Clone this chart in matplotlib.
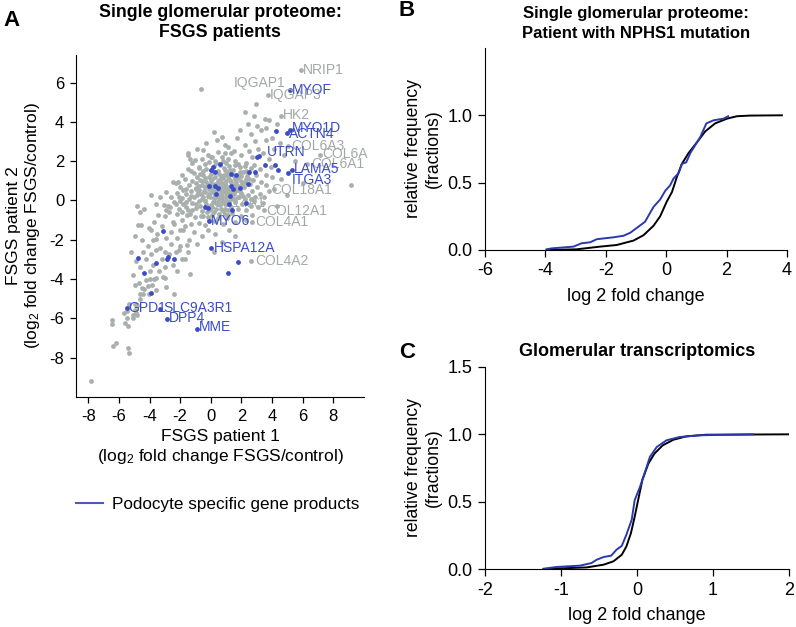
import numpy as np
import matplotlib
matplotlib.use("Agg")
import matplotlib.pyplot as plt
from matplotlib.lines import Line2D

plt.rcParams['font.family'] = ['Liberation Sans', 'DejaVu Sans']
plt.rcParams['mathtext.fontset'] = 'custom'
plt.rcParams['mathtext.rm'] = 'Liberation Sans'
plt.rcParams['mathtext.default'] = 'regular'
plt.rcParams['axes.unicode_minus'] = False

GRAY = '#a8b0ad'
GRAY_TXT = '#a3a8a8'
BLUE = '#3a4cc8'
LINE_BLUE = '#2a3aae'

# ---- panel A: FSGS patient 1 vs patient 2 (log2 fold change)
gray_core = [
    (-0.3, 2.9), (0.4, 3.1), (1.1, 2.7), (1.7, 3.2), (2.2, 2.8), (2.6, 3.4), (0.9, 2.4),
    (-0.9, 2.6), (1.5, 2.5), (2.9, 3.0), (2.4, 3.9), (3.3, 3.6), (2.8, 4.3), (1.9, 3.6),
    (0.2, 3.5), (-1.5, 2.3), (3.1, 2.6), (3.6, 3.1),
    (-1.2, 1.9), (-0.6, 2.1), (-0.2, 2.3), (0.3, 2.0), (0.7, 2.2), (1.0, 1.9), (1.3, 2.4),
    (1.6, 2.0), (2.0, 2.3), (2.3, 1.9), (2.7, 2.2), (3.4, 2.4), (0.5, 2.45), (-0.4, 1.85),
    (1.8, 1.85), (2.5, 2.5), (3.8, 2.1), (4.1, 2.6), (0.1, 2.2), (1.15, 2.1),
    (-1.9, 1.3), (-1.5, 1.6), (-1.1, 1.4), (-0.8, 1.7), (-0.5, 1.3), (-0.3, 1.6), (0.0, 1.35),
    (0.2, 1.75), (0.45, 1.5), (0.7, 1.25), (0.85, 1.65), (1.05, 1.4), (1.2, 1.75), (1.45, 1.55),
    (1.7, 1.3), (1.9, 1.7), (2.1, 1.45), (2.35, 1.25), (2.6, 1.65), (2.95, 1.3), (3.2, 1.6),
    (-0.9, 1.2), (0.6, 1.8), (1.6, 1.2), (2.8, 1.8), (3.6, 1.3), (4.0, 1.2), (-0.15, 1.2),
    (0.95, 1.55), (2.25, 1.75),
    (-2.3, 0.9), (-2.0, 0.7), (-1.7, 1.1), (-1.4, 0.8), (-1.2, 1.0), (-0.95, 0.65), (-0.7, 1.05),
    (-0.55, 0.8), (-0.3, 0.95), (-0.1, 0.6), (0.1, 1.1), (0.25, 0.85), (0.5, 1.0), (0.65, 0.7),
    (0.8, 1.15), (0.95, 0.85), (1.1, 0.6), (1.25, 1.05), (1.4, 0.8), (1.55, 1.1), (1.75, 0.75),
    (1.95, 1.0), (2.15, 0.7), (2.3, 1.1), (2.55, 0.85), (2.75, 1.05), (3.0, 0.7), (3.3, 0.95),
    (-1.0, 0.9), (0.4, 0.65), (0.75, 0.9), (1.65, 0.95), (2.05, 0.85), (-0.4, 0.7), (0.0, 0.9),
    (1.0, 1.0), (3.6, 0.8), (-1.6, 0.6),
    (-2.6, 0.2), (-2.2, 0.4), (-1.9, 0.1), (-1.6, 0.35), (-1.3, 0.5), (-1.1, 0.15), (-0.85, 0.4),
    (-0.6, 0.05), (-0.45, 0.5), (-0.2, 0.25), (0.05, 0.45), (0.2, 0.1), (0.35, 0.55), (0.55, 0.3),
    (0.7, 0.05), (0.85, 0.45), (1.0, 0.2), (1.15, 0.5), (1.35, 0.1), (1.5, 0.35), (1.7, 0.55),
    (1.85, 0.15), (2.0, 0.4), (2.2, 0.05), (2.45, 0.3), (2.7, 0.5), (2.9, 0.15), (3.2, 0.35),
    (-0.75, 0.55), (0.45, 0.15), (1.6, 0.0), (-1.45, 0.05), (0.95, 0.6), (2.6, 0.05), (3.5, 0.2),
    (-2.9, 0.45),
    (-2.8, -0.3), (-2.4, -0.1), (-2.1, -0.45), (-1.8, -0.2), (-1.5, -0.5), (-1.25, -0.15),
    (-1.0, -0.4), (-0.8, -0.05), (-0.55, -0.55), (-0.3, -0.2), (-0.05, -0.5), (0.15, -0.1),
    (0.35, -0.45), (0.6, -0.25), (0.8, -0.55), (1.0, -0.05), (1.3, -0.35), (1.55, -0.1),
    (1.8, -0.45), (2.05, -0.2), (2.3, -0.5), (2.6, -0.3), (2.85, -0.05), (3.1, -0.35),
    (-2.0, -0.05), (0.5, -0.05), (1.15, -0.5), (-1.6, -0.35), (3.4, -0.15), (0.0, -0.25),
    (-3.0, -0.8), (-2.5, -1.1), (-2.2, -0.7), (-1.9, -1.0), (-1.55, -0.75), (-1.3, -1.2),
    (-1.05, -0.85), (-0.8, -1.15), (-0.5, -0.8), (-0.35, -1.25), (0.05, -0.75), (0.3, -1.05),
    (0.55, -0.7), (0.8, -1.2), (1.05, -0.9), (1.4, -0.65), (1.6, -1.1), (1.95, -0.8),
    (2.3, -1.0), (-1.7, -1.3), (-0.15, -0.95), (0.9, -0.7), (2.7, -0.75), (-2.7, -0.6),
    (-2.6, -1.6), (-2.2, -1.9), (-1.8, -1.5), (-1.4, -2.0), (-1.1, -1.6), (-0.6, -1.8),
    (-0.2, -1.5), (0.3, -1.7), (0.7, -2.1), (1.2, -1.5), (-1.58, -2.28), (-2.0, -2.3),
    (-0.9, -2.2), (1.6, -1.8), (0.2, -2.6),
]
gray_dense = [
    (-0.9, 0.3), (-0.7, -0.3), (-0.5, 0.2), (-0.25, -0.6), (-0.1, 0.35), (0.1, -0.35),
    (0.25, 0.4), (0.4, -0.2), (0.55, 0.55), (0.65, -0.45), (0.75, 0.25), (0.9, -0.2),
    (1.05, 0.35), (1.2, -0.05), (1.3, 0.45), (1.45, 0.05), (1.6, 0.6), (1.75, 0.2),
    (1.9, 0.5), (2.1, 0.25),
    (-0.6, 1.0), (-0.4, 1.15), (-0.2, 0.8), (0.0, 1.05), (0.15, 0.7), (0.3, 1.2), (0.45, 0.85),
    (0.6, 1.1), (0.7, 0.45), (0.85, 1.3), (1.0, 0.75), (1.15, 1.2), (1.3, 0.95), (1.45, 1.3),
    (1.6, 0.8), (1.8, 1.15), (2.0, 1.25), (2.2, 0.95), (2.4, 1.4), (2.5, 1.1),
    (-1.3, 0.25), (-1.0, 0.6), (-0.8, 0.75), (-0.65, 0.35), (-0.35, 0.45), (-0.05, 0.15),
    (0.1, 0.65), (0.3, 0.3), (0.5, 0.6), (0.65, 0.15), (0.8, 0.65), (1.0, 0.45), (1.2, 0.25),
    (1.35, 0.7), (1.55, 0.5), (-1.2, -0.5), (-0.95, -0.2), (-0.65, -0.8), (-0.4, -0.05),
    (-0.2, -0.85), (0.2, -0.6), (0.45, -0.9), (0.7, -0.05), (0.95, -0.45), (1.1, -0.75),
    (-1.8, 0.55), (-2.1, 0.15), (-1.6, -0.1), (-1.35, -0.7), (-1.9, -0.6),
    (0.1, 1.5), (0.55, 1.35), (0.35, 1.9), (0.8, 2.0), (1.25, 1.55), (1.55, 1.8), (1.9, 1.45),
    (-0.5, 1.5), (-0.7, 1.35), (2.3, 1.5),
]
gray_upper = [
    (3.74, 5.36), (4.59, 4.28), (3.78, 4.11), (3.55, 4.15), (2.98, 4.91), (-0.65, 5.65),
    (5.89, 6.63), (4.0, 3.2), (4.5, 2.9), (3.6, 3.7), (4.3, 3.9), (3.0, 3.8), (2.2, 4.5),
    (4.8, 2.3), (5.06, 2.79), (6.3, 1.83), (7.1, 2.33), (5.5, 2.0), (4.6, 1.1), (4.1, 0.6),
    (5.0, 0.3), (3.83, 0.5), (3.5, -0.5), (2.7, -1.1), (4.3, -0.3), (9.13, 0.8), (6.0, 0.9),
    (2.6, -3.1), (3.9, 1.7), (0.76, 3.25), (0.91, 2.83), (-0.54, 2.59), (-1.51, 2.4),
    (-1.34, 2.12), (-1.02, 2.08), (0.0, 2.2), (-0.11, 1.95),
]
gray_left = [
    (-4.8, -0.29), (-4.33, -0.42), (-4.76, -1.27), (-4.59, -1.27), (-4.98, -1.81), (-4.04, -1.4),
    (-3.74, -1.1), (-3.46, -0.76), (-3.29, 0.17), (-2.49, 0.93), (-2.16, 0.93), (-1.3, 1.52),
    (-0.76, 1.64), (-3.03, -0.25), (-2.92, -0.47), (-2.64, -0.34), (-3.8, -2.0), (-3.5, -1.7),
    (-3.2, -1.3), (-2.9, -1.9), (-2.6, -2.2), (-3.3, -2.4), (-4.1, -2.3), (-3.9, -2.7),
    (-3.6, -2.5), (-3.0, -2.6), (-2.7, -2.7), (-4.4, -2.6), (-4.2, -3.0), (-3.75, -3.3),
    (-3.2, -3.0), (-2.5, -3.3), (-2.3, -2.6), (-2.1, -2.5), (-1.9, -3.0), (-4.6, -3.4),
    (-4.0, -3.6), (-3.4, -3.6), (-3.0, -3.4), (-2.2, -3.6), (-1.36, -3.72), (-3.1, -3.9),
    (-3.7, -4.0), (-4.5, -2.0), (-3.9, -1.5), (-5.2, -2.6), (-4.9, -3.1), (-2.4, -1.2),
    (-2.0, -1.5), (-4.6, -0.6), (-3.6, -0.2), (-3.9, 0.3), (-2.3, -0.2), (-5.1, -3.8),
    (-4.7, -4.2), (-1.5, -2.62), (-3.55, -1.95),
]
gray_tail = [
    (-4.65, -4.77), (-4.43, -4.74), (-4.04, -4.77), (-4.33, -4.5), (-4.11, -4.33), (-3.83, -4.29),
    (-3.56, -4.55), (-4.2, -4.06), (-3.95, -3.98), (-4.98, -4.3), (-4.5, -4.43), (-3.56, -3.92),
    (-3.0, -3.92), (-2.4, -4.74), (-5.64, -5.75), (-5.5, -5.6), (-4.91, -5.75), (-5.06, -6.0),
    (-5.44, -6.0), (-4.83, -5.83), (-5.36, -5.25), (-4.95, -5.25), (-4.83, -5.3), (-5.11, -5.84),
    (-4.93, -5.58), (-6.44, -6.09), (-6.44, -6.31), (-5.62, -6.21), (-5.41, -6.38), (-6.4, -7.4),
    (-6.19, -7.24), (-5.41, -7.5), (-5.32, -7.78), (-7.85, -9.19), (-4.6, -5.0), (-2.9, -4.4),
    (-1.7, -3.0),
]
podocyte = [
    (5.17, 5.62), (4.26, 3.55), (4.95, 3.44), (5.17, 3.59), (3.13, 2.28), (3.0, 2.2),
    (3.55, 1.78), (4.22, 1.81), (4.37, 1.57), (5.02, 1.41), (5.30, 1.57), (2.86, 1.44),
    (2.50, 1.44), (1.34, 1.35), (1.62, 1.27), (0.58, 1.86), (0.15, 1.69), (0.0, 1.55),
    (0.26, 1.44), (-0.15, 0.75), (0.30, 0.76), (0.45, 0.63), (0.37, 0.32), (1.45, 0.59),
    (1.90, 0.64), (2.42, 0.86), (1.25, 0.25), (1.30, 0.76), (-0.41, -0.34), (-0.17, -0.37),
    (1.20, -0.20), (1.41, -0.51), (2.32, -0.15), (-0.15, -1.07), (0.04, -2.42), (1.80, -3.13),
    (1.15, -3.67), (-3.10, -1.54), (-4.76, -2.91), (-3.57, -3.16), (-2.88, -2.96),
    (-2.81, -2.88), (-2.42, -2.99), (-4.35, -3.70), (-3.89, -4.70), (-5.47, -5.47),
    (-3.31, -5.53), (-2.88, -6.04), (-0.89, -6.55),
]
# gene labels: (name, x, y) at the left edge of the text
gray_labels = [
    ("NRIP1", 6.0, 6.63), ("IQGAP1", 1.49, 5.99), ("IQGAP3", 3.85, 5.38), ("HK2", 4.7, 4.33),
    ("COL6A3", 5.26, 2.79), ("COL6A", 7.27, 2.34), ("COL6A1", 6.55, 1.83),
    ("COL18A1", 3.96, 0.51), ("COL12A1", 3.63, -0.54), ("COL4A1", 2.92, -1.1),
    ("COL4A2", 2.92, -3.1),
]
blue_labels = [
    ("MYOF", 5.3, 5.64), ("MYO1D", 5.26, 3.7), ("ACTN4", 5.13, 3.4), ("UTRN", 3.63, 2.49),
    ("LAMA5", 5.45, 1.62), ("ITGA3", 5.26, 1.02), ("MYO6", 0.0, -1.07),
    ("HSPA12A", 0.19, -2.4), ("GPD1", -5.39, -5.45), ("SLC9A3R1", -3.12, -5.48),
    ("DPP4", -2.73, -5.96), ("MME", -0.78, -6.46),
]

# ---- panel B: cumulative distributions, NPHS1 patient
b_all_x = [-3.96, -2.96, -2.19, -1.64, -1.08, -0.75, -0.42, -0.2, 0.02, 0.19, 0.35, 0.52,
           0.74, 1.02, 1.29, 1.62, 2.01, 2.34, 2.78, 3.83]
b_all_y = [0.0, 0.005, 0.025, 0.037, 0.07, 0.11, 0.18, 0.25, 0.36, 0.43, 0.54, 0.64,
           0.72, 0.80, 0.88, 0.94, 0.975, 0.993, 0.998, 1.0]
b_pod_x = [-3.96, -3.79, -3.07, -2.8, -2.52, -2.3, -1.75, -1.41, -1.19, -0.92, -0.7, -0.42,
           -0.2, -0.03, 0.13, 0.24, 0.41, 0.52, 0.66, 0.8, 1.13, 1.33, 1.57, 1.9, 2.05]
b_pod_y = [0.005, 0.012, 0.025, 0.05, 0.057, 0.08, 0.094, 0.106, 0.128, 0.173, 0.21, 0.32,
           0.375, 0.44, 0.48, 0.53, 0.57, 0.64, 0.65, 0.72, 0.84, 0.94, 0.963, 0.975, 0.993]

# ---- panel C: cumulative distributions, glomerular transcriptomics
c_all_x = [-1.23, -0.66, -0.44, -0.31, -0.2, -0.14, -0.08, -0.03, 0.015, 0.07, 0.15, 0.23,
           0.34, 0.48, 0.65, 0.91, 2.0]
c_all_y = [0.0, 0.012, 0.032, 0.057, 0.106, 0.167, 0.266, 0.389, 0.512, 0.66, 0.783, 0.857,
           0.919, 0.96, 0.985, 0.997, 1.0]
c_pod_x = [-1.23, -1.06, -0.75, -0.6, -0.53, -0.44, -0.34, -0.27, -0.2, -0.14, -0.07, -0.03,
           0.04, 0.12, 0.17, 0.26, 0.39, 0.56, 0.83, 1.53]
c_pod_y = [0.002, 0.015, 0.025, 0.044, 0.069, 0.089, 0.099, 0.143, 0.172, 0.254, 0.365,
           0.512, 0.611, 0.746, 0.833, 0.906, 0.956, 0.98, 0.993, 1.0]


def style_axes(ax, size, length):
    ax.spines['top'].set_visible(False)
    ax.spines['right'].set_visible(False)
    ax.tick_params(direction='out', length=length, width=0.9, labelsize=size, pad=4)


fig = plt.figure(figsize=(7.96, 6.27), dpi=100)

# panel A
axA = fig.add_axes([0.0955, 0.3668, 0.3618, 0.5455])
gray_all = np.array(gray_core + gray_dense + gray_upper + gray_left + gray_tail)
pod = np.array(podocyte)
axA.scatter(gray_all[:, 0], gray_all[:, 1], s=12, color=GRAY, linewidths=0, zorder=2)
axA.scatter(pod[:, 0], pod[:, 1], s=12, color=BLUE, linewidths=0, zorder=3)
axA.text(-0.4, -0.15, "COL14A1", color=GRAY_TXT, fontsize=10, va='center', zorder=1)
for name, x, y in gray_labels:
    axA.text(x, y, name, color=GRAY_TXT, fontsize=10, va='center', zorder=4, clip_on=False)
for name, x, y in blue_labels:
    axA.text(x, y, name, color=BLUE, fontsize=10, va='center', zorder=5)
axA.set_xlim(-8.8, 10)
axA.set_ylim(-10, 7.4)
axA.set_xticks([-8, -6, -4, -2, 0, 2, 4, 6, 8])
axA.set_yticks([-8, -6, -4, -2, 0, 2, 4, 6])
style_axes(axA, 12, 4.5)
axA.set_xlabel("FSGS patient 1\n(log$_2$ fold change FSGS/control)", fontsize=12.5, labelpad=4)
axA.set_ylabel("FSGS patient 2\n(log$_2$ fold change FSGS/control)", fontsize=12.5, labelpad=5)
axA.set_title("Single glomerular proteome:\nFSGS patients", fontsize=12.8,
              fontweight='bold', pad=13, linespacing=1.25)

fig.legend(handles=[Line2D([], [], color='#4a5ac0', lw=1.5)],
           labels=["Podocyte specific gene products"], loc='center left',
           bbox_to_anchor=(76 / 796, 1 - 504 / 627), frameon=False, fontsize=12.3,
           handlelength=1.6, handletextpad=0.5, borderpad=0, borderaxespad=0)

# panel B
axB = fig.add_axes([0.6093, 0.6013, 0.3794, 0.3222])
axB.plot(b_all_x, b_all_y, color='black', lw=1.4)
axB.plot(b_pod_x, b_pod_y, color=LINE_BLUE, lw=1.4)
axB.set_xlim(-6, 4)
axB.set_ylim(0, 1.5)
axB.set_xticks([-6, -4, -2, 0, 2, 4])
axB.set_yticks([0.0, 0.5, 1.0])
axB.set_yticklabels(["0.0", "0.5", "1.0"])
style_axes(axB, 13, 5)
axB.set_xlabel("log 2 fold change", fontsize=13, labelpad=6)
axB.set_ylabel("relative frequency\n(fractions)", fontsize=12.7)
axB.set_title("Single glomerular proteome:\nPatient with NPHS1 mutation", fontsize=12,
              fontweight='bold', pad=7, linespacing=1.45)

# panel C
axC = fig.add_axes([0.6093, 0.0925, 0.3819, 0.3222])
axC.plot(c_all_x, c_all_y, color='black', lw=1.4)
axC.plot(c_pod_x, c_pod_y, color=LINE_BLUE, lw=1.4)
axC.set_xlim(-2, 2)
axC.set_ylim(0, 1.5)
axC.set_xticks([-2, -1, 0, 1, 2])
axC.set_yticks([0.0, 0.5, 1.0, 1.5])
axC.set_yticklabels(["0.0", "0.5", "1.0", "1.5"])
style_axes(axC, 13, 5)
axC.set_xlabel("log 2 fold change", fontsize=13, labelpad=6)
axC.set_ylabel("relative frequency\n(fractions)", fontsize=12.7)
axC.set_title("Glomerular transcriptomics", fontsize=13, fontweight='bold', pad=8)

# panel letters
fig.text(3 / 796, 1 - 21 / 627, "A", fontsize=16, fontweight='bold', va='center')
fig.text(399 / 796, 1 - 10 / 627, "B", fontsize=16, fontweight='bold', va='center')
fig.text(399 / 796, 1 - 353 / 627, "C", fontsize=16, fontweight='bold', va='center')

fig.savefig("out.png", dpi=100)
